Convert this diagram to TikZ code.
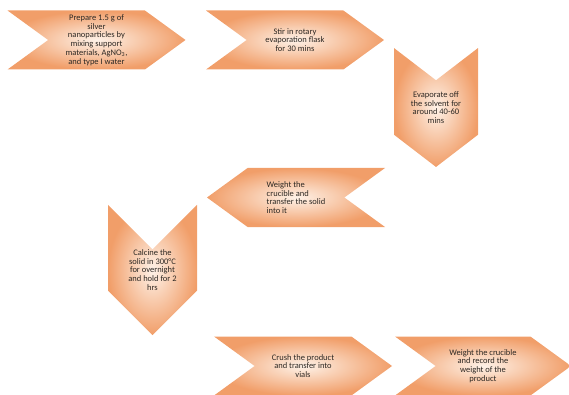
\documentclass[tikz,border=0pt]{standalone}
\usepackage{fontspec}
\setmainfont{Carlito}
\usetikzlibrary{shapes.symbols, positioning}
\definecolor{chevdark}{RGB}{241,158,105}
\definecolor{chevlight}{RGB}{254,242,232}
\definecolor{chevtext}{RGB}{45,40,35}

\begin{document}
\begin{tikzpicture}[x=1pt, y=-1pt,
      stepbox/.style={signal, draw=none, shading=radial, inner color=chevlight,
                      outer color=chevdark, inner sep=0pt, align=center,
                      text=chevtext, font=\fontsize{8.5}{8.8}\selectfont},
      goright/.style={stepbox, signal to=east, signal from=west, signal pointer angle=72,
                      minimum width=178pt, minimum height=59pt},
      godown/.style={stepbox, signal to=south, signal from=north}
    ]
    \useasboundingbox (0,0) rectangle (569,395);
    \node[goright] (prep) at (96.5,40) {Prepare 1.5 g of\\silver\\nanoparticles by\\mixing support\\materials, AgNO\textsubscript{3},\\and type I water};
    \node[goright] (stir) at (295,40) {Stir in rotary\\evaporation flask\\for 30 mins};
    \node[godown, signal pointer angle=105, minimum width=84pt, minimum height=93pt] (evap) at (436,107.5) {Evaporate off\\the solvent for\\around 40-60\\mins};
    \node[stepbox, signal to=west, signal from=east, signal pointer angle=72,
          minimum width=178pt, minimum height=59pt, align=left] (weigh) at (296,197.5) {Weight the\\crucible and\\transfer the solid\\into it};
    \node[godown, signal pointer angle=90, minimum width=89pt, minimum height=76pt] (calc) at (152.5,270) {Calcine the\\solid in 300°C\\for overnight\\and hold for 2\\hrs};
    \node[goright] (crush) at (303,366) {Crush the product\\and transfer into\\vials};
    \node[goright, minimum width=176pt] (record) at (483,366) {Weight the crucible\\and record the\\weight of the\\product};
  \end{tikzpicture}
\end{document}
